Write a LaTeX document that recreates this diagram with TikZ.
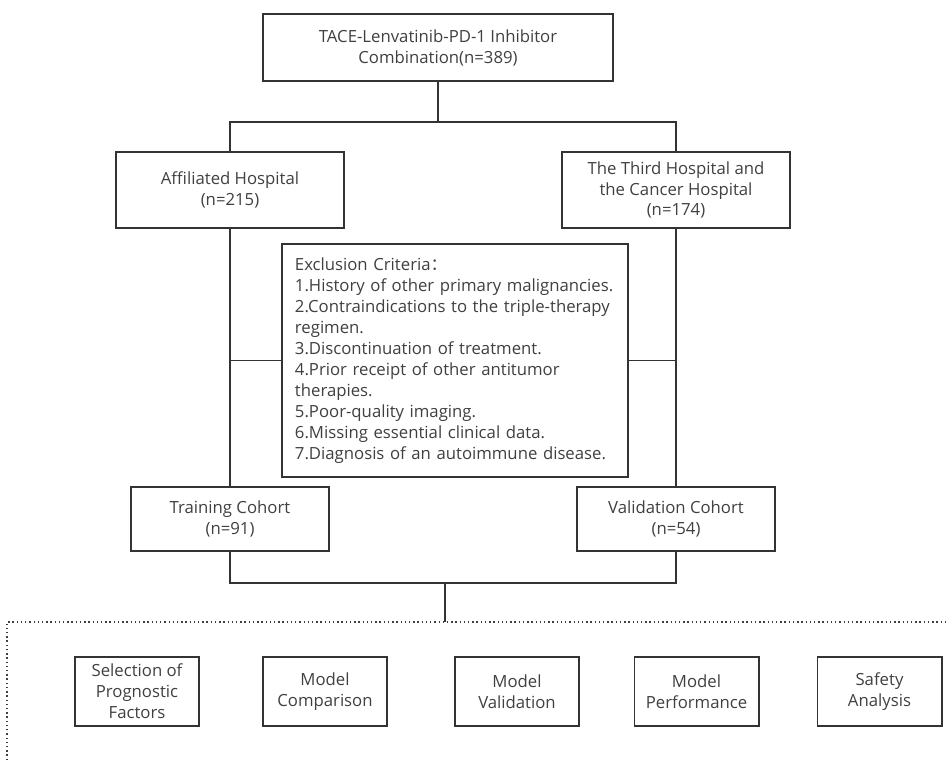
\documentclass[tikz,border=0pt]{standalone}
\usepackage{fontspec}
\setmainfont{Open Sans}
\newfontfamily\cjk{Noto Sans CJK SC}

\begin{document}
\begin{tikzpicture}[x=0.025cm,y=-0.025cm,
	every node/.style={font=\fontsize{11.9}{14.9}\selectfont, text=black!75, align=center, inner sep=0pt},
	box/.style={draw=black!80, line width=1.4pt},
	hospbox/.style={box, minimum width=5.7cm, minimum height=1.9cm},
	cohortbox/.style={box, minimum width=4.95cm, minimum height=1.6cm},
	taskbox/.style={box, minimum width=3.1cm, minimum height=1.725cm},
	link/.style={draw=black!80, line width=1.4pt}]
	\useasboundingbox (0,0) rectangle (949,760);
	\node[box, minimum width=8.75cm, minimum height=1.675cm] (top) at (438,47.5) {TACE-Lenvatinib-PD-1 Inhibitor\\ Combination(n=389)};
	\node[hospbox] (aff) at (230,190) {Affiliated Hospital\\ (n=215)};
	\node[hospbox] (third) at (676,190) {The Third Hospital and\\ the Cancer Hospital\\ (n=174)};
	\node[box, align=left, text width=8cm, inner xsep=0.325cm, minimum height=5.825cm, fill=white] (excl) at (455,360.5) {Exclusion Criteria{\cjk ：}\\ 1.History of other primary malignancies.\\ 2.Contraindications to the triple-therapy\\ regimen.\\ 3.Discontinuation of treatment.\\ 4.Prior receipt of other antitumor\\ therapies.\\ 5.Poor-quality imaging.\\ 6.Missing essential clinical data.\\ 7.Diagnosis of an autoimmune disease.};
	\node[cohortbox] (train) at (230,519) {Training Cohort\\ (n=91)};
	\node[cohortbox] (valid) at (676,519) {Validation Cohort\\ (n=54)};
	\node[taskbox] (sel) at (137,691.5) {Selection of\\ Prognostic\\ Factors};
	\node[taskbox] (comp) at (325,691.5) {Model\\ Comparison};
	\node[taskbox] (val) at (517,691.5) {Model\\ Validation};
	\node[taskbox] (perf) at (696.5,691.5) {Model\\ Performance};
	\node[taskbox] (safe) at (879.5,691.5) {Safety\\ Analysis};
	\coordinate (split) at (438,122);
	\coordinate (merge) at (445,583);
	\coordinate (frame) at (445,622);
	\draw[link] (top) -- (split);
	\draw[link] (aff.north) |- (split) -| (third.north);
	\foreach \u/\v in {aff/train, third/valid} {\draw[link] (\u) -- (\v);}
	\draw[link] (excl.west) -- (excl.west -| aff.south);
	\draw[link] (excl.east) -- (excl.east -| third.south);
	\draw[link] (train.south) |- (merge) -| (valid.south);
	\draw[link] (merge) -- (frame);
	\draw[black!75, line width=1pt, dotted] (7,760) |- (949,622);
\end{tikzpicture}
\end{document}
